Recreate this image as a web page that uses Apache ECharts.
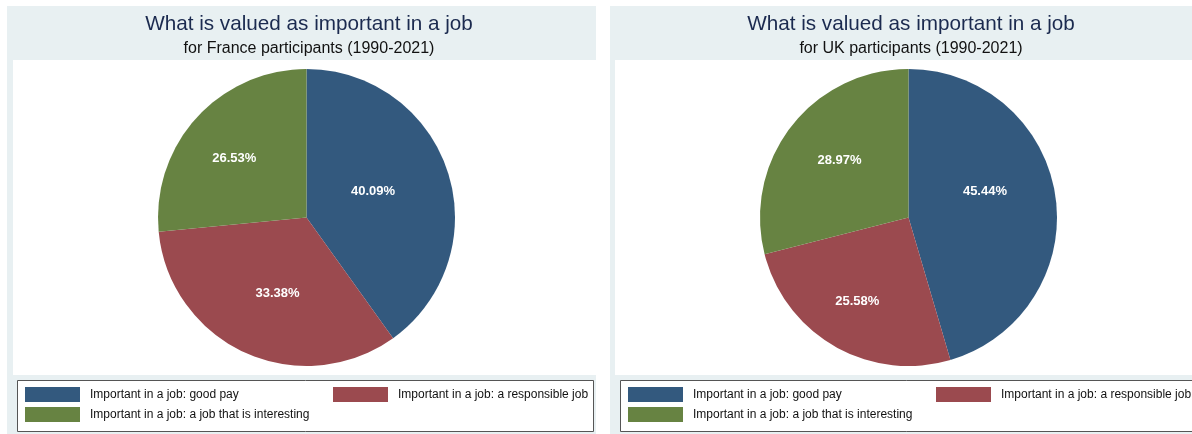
<!DOCTYPE html>
<html>
<head>
<meta charset="utf-8">
<script src="https://cdn.jsdelivr.net/npm/echarts@6/dist/echarts.min.js"></script>
<style>
  html, body { margin: 0; padding: 0; background: #fff; overflow: hidden; }
  #chart { width: 1192px; height: 434px; }
</style>
</head>
<body>
<div id="chart"></div>
<script>
  // data
  var categories = [
    'Important in a job: good pay',
    'Important in a job: a responsible job',
    'Important in a job: a job that is interesting'
  ];
  var franceShares = [40.09, 33.38, 26.53];
  var ukShares = [45.44, 25.58, 28.97];
  var mainTitle = 'What is valued as important in a job';
  var subTitles = ['for France participants (1990-2021)', 'for UK participants (1990-2021)'];
  var colors = ['#33597e', '#9b4a4f', '#678342'];

  // small nudges so the inside labels sit where stata put them
  var franceLabelNudge = [[-7, -2], [3, 6], [-15, -7]];
  var ukLabelNudge = [[0, -15], [-13, 17], [-8, -10]];

  var font = '"Liberation Sans", Arial, Helvetica, sans-serif';
  var panelBg = '#e8f0f2';

  function pieData(values, nudge) {
    var out = []
    for (var i = 0; i < categories.length; i++) {
      out.push({
        name: categories[i],
        value: values[i],
        itemStyle: { color: colors[i] },
        label: { offset: nudge[i] }
      })
    }
    return out
  }

  function pieSeries(values, nudge, cx) {
    return {
      type: 'pie',
      center: [cx, 217.5],
      radius: 148.5,
      startAngle: 90,
      clockwise: true,
      silent: true,
      emphasis: { disabled: true },
      itemStyle: { borderWidth: 0 },
      label: {
        show: true,
        position: 'inside',
        color: '#fff',
        fontFamily: font,
        fontWeight: 'bold',
        fontSize: 13,
        formatter: function (p) { return p.value.toFixed(2) + '%' }
      },
      labelLine: { show: false },
      data: pieData(values, nudge)
    }
  }

  function legendPart(x, names) {
    return {
      left: x,
      top: 387,
      padding: 0,
      orient: 'vertical',
      icon: 'rect',
      itemWidth: 55,
      itemHeight: 15,
      itemGap: 5,
      selectedMode: false,
      data: names,
      textStyle: { fontFamily: font, fontSize: 12, color: '#111', padding: [0, 0, 0, 5] }
    }
  }

  function titlePart(cx, sub) {
    return {
      text: mainTitle, subtext: sub,
      left: cx, top: 9, textAlign: 'center', itemGap: 6,
      textStyle: { fontFamily: font, fontSize: 20.7, fontWeight: 'normal', color: '#1b2a4f' },
      subtextStyle: { fontFamily: font, fontSize: 16, color: '#111' }
    }
  }

  var chart = echarts.init(document.getElementById('chart'), null, { renderer: 'canvas' })

  var option = {
    animation: false,
    backgroundColor: '#fff',
    graphic: [
      // panel backgrounds
      { type: 'rect', z: -10, shape: { x: 7, y: 6, width: 589, height: 430 }, style: { fill: panelBg } },
      { type: 'rect', z: -10, shape: { x: 610, y: 6, width: 590, height: 430 }, style: { fill: panelBg } },
      // plot regions
      { type: 'rect', z: -9, shape: { x: 13, y: 60, width: 583, height: 315 }, style: { fill: '#fff' } },
      { type: 'rect', z: -9, shape: { x: 615, y: 60, width: 590, height: 315 }, style: { fill: '#fff' } },
      // legend boxes
      { type: 'rect', z: -8, shape: { x: 17.5, y: 380.5, width: 576, height: 51 }, style: { fill: '#fff', stroke: '#555', lineWidth: 1 } },
      { type: 'rect', z: -8, shape: { x: 620.5, y: 380.5, width: 580, height: 51 }, style: { fill: '#fff', stroke: '#555', lineWidth: 1 } }
    ],
    title: [
      titlePart(304, subTitles[0]),
      titlePart(906, subTitles[1])
    ],
    legend: [
      legendPart(25, [categories[0], categories[2]]),
      legendPart(333, [categories[1]]),
      legendPart(628, [categories[0], categories[2]]),
      legendPart(936, [categories[1]])
    ],
    series: [
      pieSeries(franceShares, franceLabelNudge, 306.5),
      pieSeries(ukShares, ukLabelNudge, 908.5)
    ]
  }

  chart.setOption(option)
</script>
</body>
</html>
